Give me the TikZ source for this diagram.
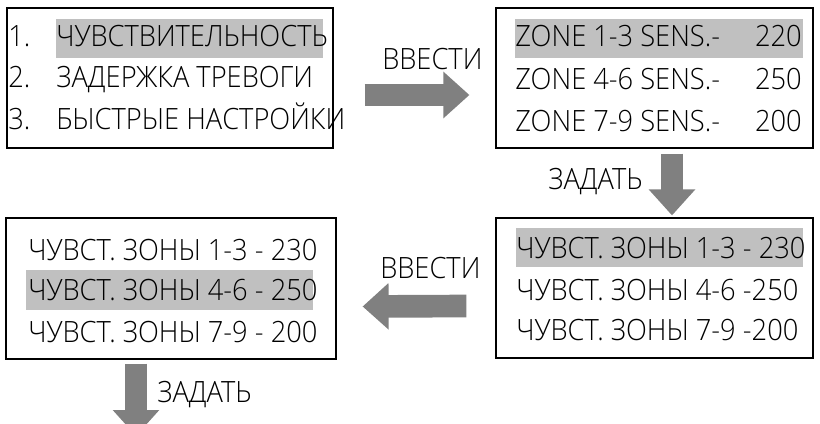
\documentclass[tikz,border=0pt]{standalone}
\usepackage{fontspec}
\setmainfont{Open Sans}[UprightFont={* Light}, FakeStretch=0.93]
\usetikzlibrary{arrows.meta,fit}

\definecolor{arrowgray}{HTML}{808080}
\definecolor{hlgray}{HTML}{C0C0C0}

\tikzset{
  screen/.style={draw, line width=0.9pt, inner sep=0pt},
  row/.style={anchor=base west, inner sep=0pt},
  val/.style={anchor=base east, inner sep=0pt},
  hl/.style={fill=hlgray},
  blockarrow/.style={arrowgray, line width=17pt,
    -{Triangle[length=19.5pt, width=33.75pt]}},
}

\begin{document}
\begin{tikzpicture}[x=0.75pt, y=-0.75pt, font=\fontsize{22pt}{26pt}\selectfont]
\useasboundingbox (0,0) rectangle (820,424);

% Highlighted rows
\fill[hl] (56,19) rectangle (323,58);
\fill[hl] (515,19) rectangle (803,58);
\fill[hl] (516,228) rectangle (803,267);
\fill[hl] (26,270) rectangle (313,310);

% Screens
\node[screen, fit={(7,8) (333,148)}] (menu) {};
\node[screen, fit={(496,8) (813,148)}] (sensen) {};
\node[screen, fit={(496,218) (813,358)}] (sensru) {};
\node[screen, fit={(6,218) (336,359)}] (sensedit) {};

% Main menu
\node[row] (n1) at (8,47) {1.};
\node[row] (n2) at (8,88) {2.};
\node[row] (n3) at (8,130) {3.};
\node[row] (m1) at (56,47) {ЧУВСТВИТЕЛЬНОСТЬ};
\node[row] (m2) at (56,88) {ЗАДЕРЖКА ТРЕВОГИ};
\node[row] (m3) at (56,130) {БЫСТРЫЕ НАСТРОЙКИ};

% Zone sensitivity (English)
\node[row] (z1) at (515,47) {ZONE 1-3 SENS.-};
\node[row] (z2) at (515,90) {ZONE 4-6 SENS.-};
\node[row] (z3) at (515,132) {ZONE 7-9 SENS.-};
\node[val] (v1) at (802,47) {220};
\node[val] (v2) at (802,90) {250};
\node[val] (v3) at (802,132) {200};

% Zone sensitivity (Russian)
\node[row] (r1) at (516,258) {ЧУВСТ. ЗОНЫ 1-3 - 230};
\node[row] (r2) at (516,300) {ЧУВСТ. ЗОНЫ 4-6 -250};
\node[row] (r3) at (516,340) {ЧУВСТ. ЗОНЫ 7-9 -200};

% Edited values
\node[row] (e1) at (28,260) {ЧУВСТ. ЗОНЫ 1-3 - 230};
\node[row] (e2) at (28,300) {ЧУВСТ. ЗОНЫ 4-6 - 250};
\node[row] (e3) at (28,342) {ЧУВСТ. ЗОНЫ 7-9 - 200};

% Arrows and labels
\coordinate (exit) at (136,436);
\draw[blockarrow] ([shift={(31,17)}]menu.east) -- ([shift={(-26,17)}]sensen.west);
\draw[blockarrow] ([shift={(17.5,5)}]sensen.south) -- ([shift={(17.5,-2)}]sensru.north);
\draw[blockarrow] ([shift={(-29,18)}]sensru.west) -- ([shift={(26,18)}]sensedit.east);
\draw[blockarrow] ([shift={(-35,4)}]sensedit.south) -- (exit);

\node[row] (enter1) at (382,70) {ВВЕСТИ};
\node[row] (set1) at (548,190) {ЗАДАТЬ};
\node[row] (enter2) at (380,278) {ВВЕСТИ};
\node[row] (set2) at (157,402) {ЗАДАТЬ};

\end{tikzpicture}
\end{document}
